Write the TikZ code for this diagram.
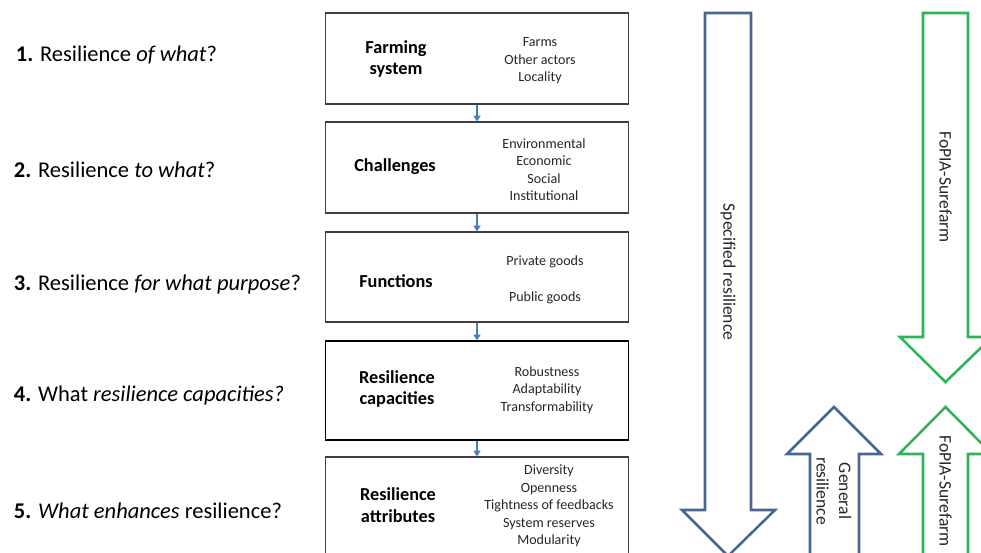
\documentclass[tikz,border=0pt]{standalone}
\usepackage{fontspec}
\setmainfont{Carlito}
\usetikzlibrary{arrows.meta}

\definecolor{azulflecha}{HTML}{4A6590}
\definecolor{verdeflecha}{HTML}{2EB25C}
\definecolor{azulpaso}{HTML}{4A7EBB}

\tikzset{
	caja/.style={draw=black!75, line width=0.9pt, minimum width=7.575cm, inner sep=0pt},
	titulo/.style={font=\fontsize{13}{15.6}\selectfont\bfseries, align=center},
	lista/.style={font=\fontsize{10}{12.4}\selectfont, align=center, text=black!85},
	pregunta/.style={anchor=west, font=\fontsize{16}{19}\selectfont},
	paso/.style={draw=azulpaso, line width=1pt, -{Triangle[width=5pt,length=4pt]}},
	girado/.style={rotate=-90, font=\fontsize{12.5}{16}\selectfont, text=black!85, align=center}
}

\begin{document}
\begin{tikzpicture}[x=0.025cm, y=-0.025cm]
		\useasboundingbox (0,0) rectangle (981,553);
		\clip (0,0) rectangle (981,553);

		% Preguntas
		\node[pregunta] (q1) at (11,55) {\textbf{1.} Resilience \textit{of what}?};
		\node[pregunta] (q2) at (9,170) {\textbf{2.} Resilience \textit{to what}?};
		\node[pregunta] (q3) at (9,284) {\textbf{3.} Resilience \textit{for what purpose}?};
		\node[pregunta] (q4) at (9,395) {\textbf{4.} What \textit{resilience capacities?}};
		\node[pregunta] (q5) at (9,511) {\textbf{5.} \textit{What enhances} resilience?};

		% Cajas
		\node[caja, minimum height=2.275cm] (b1) at (477,58.5) {};
		\node[caja, minimum height=2.275cm] (b2) at (477,167.5) {};
		\node[caja, minimum height=2.25cm] (b3) at (477,277) {};
		\node[caja, minimum height=2.475cm, draw=black, line width=1.1pt] (b4) at (477,390.5) {};
		\node[caja, minimum height=2.825cm] (b5) at (477,513.5) {};

		% Textos de las cajas
		\node[titulo] (t1) at (396,59) {Farming\\system};
		\node[lista] (l1) at (540,61) {Farms\\Other actors\\Locality};
		\node[titulo] (t2) at (395,167) {Challenges};
		\node[lista] (l2) at (544,169.5) {Environmental\\Economic\\Social\\Institutional};
		\node[titulo] (t3) at (396,281) {Functions};
		\node[lista] (l3a) at (545,262) {Private goods};
		\node[lista] (l3b) at (545,298) {Public goods};
		\node[titulo] (t4) at (397,389) {Resilience\\capacities};
		\node[lista] (l4) at (547,390) {Robustness\\Adaptability\\Transformability};
		\node[titulo] (t5) at (398,505) {Resilience\\attributes};
		\node[lista] (l5) at (549,506) {Diversity\\Openness\\Tightness of feedbacks\\System reserves\\Modularity};

		% Flechas entre cajas
		\draw[paso] (b1) -- (b2);
		\draw[paso] (b2) -- (b3);
		\draw[paso] (b3) -- (b4);
		\draw[paso] (b4) -- (b5);

		% Flechas grandes
		\draw[color=azulflecha, line width=1.8pt, line join=miter]
			(705,13) -- (751,13) -- (751,510) -- (775,510) -- (728,556) -- (682,510) -- (705,510) -- cycle;
		\draw[color=verdeflecha, line width=1.8pt, line join=miter]
			(923,13) -- (968,13) -- (968,337) -- (992,337) -- (945.5,382) -- (900,337) -- (923,337) -- cycle;
		\draw[color=azulflecha, line width=1.8pt, line join=miter]
			(834,407) -- (881,454) -- (859,454) -- (859,580) -- (810,580) -- (810,454) -- (787,454) -- cycle;
		\draw[color=verdeflecha, line width=1.8pt, line join=miter]
			(945.5,407) -- (992,454) -- (968,454) -- (968,580) -- (923,580) -- (923,454) -- (899,454) -- cycle;

		% Textos de las flechas
		\node[girado] (espec) at (728,272) {Specified resilience};
		\node[girado] (fopia1) at (945.5,187) {FoPIA-Surefarm};
		\node[girado] (gener) at (834,491) {General\\resilience};
		\node[girado] (fopia2) at (945.5,491) {FoPIA-Surefarm};
	\end{tikzpicture}
\end{document}
